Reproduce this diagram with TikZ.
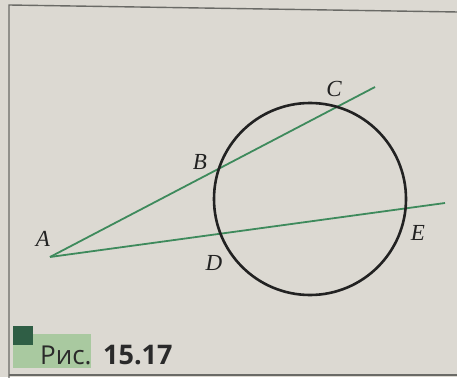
\documentclass[tikz,border=0pt]{standalone}
\usepackage{fontspec}
\newfontfamily\capfont{Open Sans}
\newfontfamily\lblfont{Liberation Serif}
\definecolor{paper}{HTML}{DCD9D2}
\definecolor{framec}{HTML}{6A6A66}
\definecolor{lgreen}{HTML}{3E8A5C}
\definecolor{darkc}{HTML}{222222}
\definecolor{hlgreen}{HTML}{A9C9A0}
\definecolor{sqgreen}{HTML}{2F5E45}
\definecolor{capc}{HTML}{2A2A2A}
\tikzset{
  secant/.style={draw=lgreen, line width=1.8pt},
  circ/.style={draw=darkc, line width=2.6pt},
  lbl/.style={font=\lblfont\itshape\fontsize{23}{23}\selectfont, text=darkc, inner sep=0pt},
  framel/.style={draw=framec, line width=1.4pt}
}
\begin{document}
\begin{tikzpicture}[x=1pt,y=-1pt]
\fill[paper] (0,0) rectangle (457,377);
\useasboundingbox (0,0) rectangle (457,377);
% frame
\draw[framel] (9,378) -- (9,5) -- (458,12);
\draw[framel] (9,375) -- (458,375);
% geometry
\coordinate (O) at (310,199);
\coordinate (A) at (50,257);
\coordinate (Cend) at (375,87);
\coordinate (Eend) at (445,203);
\draw[secant] (A) -- (Cend);
\draw[secant] (A) -- (Eend);
\draw[circ] (O) circle (96);
% labels
\node[lbl] (lA) at (43,239) {A};
\node[lbl] (lB) at (200,162) {B};
\node[lbl] (lC) at (334,89) {C};
\node[lbl] (lD) at (214,263) {D};
\node[lbl] (lE) at (418,233) {E};
% caption
\fill[hlgreen] (13,334) rectangle (91,368);
\fill[sqgreen] (13,326) rectangle (33,345);
\node[anchor=base west, inner sep=0pt, font=\capfont\fontsize{26}{26}\selectfont, text=capc] (cap1) at (40,364) {Рис.};
\node[anchor=base west, inner sep=0pt, font=\capfont\bfseries\fontsize{27}{27}\selectfont, text=capc] (cap2) at (103,364) {15.17};
\end{tikzpicture}
\end{document}
